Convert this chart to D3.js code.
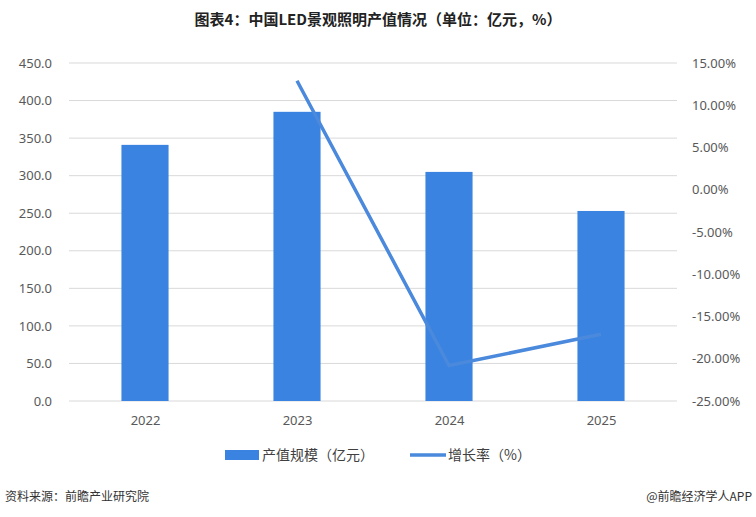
<!DOCTYPE html>
<html lang="zh">
<head>
<meta charset="UTF-8">
<title>中国LED景观照明产值情况</title>
<script src="https://d3js.org/d3.v7.min.js"></script>
<style>
  body { margin: 0; background: #fff; font-family: "Noto Sans CJK SC", "Microsoft YaHei", sans-serif; }
  svg { display: block; }
  .tick text { fill: #595959; font-size: 13px; font-family: "Noto Sans", "Noto Sans CJK SC", sans-serif; }
</style>
</head>
<body>
<svg id="chart" width="756" height="517"></svg>
<script>
const years = ["2022", "2023", "2024", "2025"];
const output = [341, 385, 305, 253];          // 产值规模（亿元）
const growth = [null, 12.9, -20.8, -17.1];    // 增长率（%）
const leftTicks = [0, 50, 100, 150, 200, 250, 300, 350, 400, 450];
const rightTicks = [-25, -20, -15, -10, -5, 0, 5, 10, 15];

const barColor = "#3a83e0";
const lineColor = "#4a89dc";

const svg = d3.select("#chart");
const plotL = 69, plotR = 677, plotT = 63, plotB = 401;

const x = d3.scaleBand().domain(years).range([plotL, plotR])
  .paddingInner(0.69).paddingOuter(0.345);
const xc = d3.scalePoint().domain(years).range([plotL, plotR]).padding(0.5);
const y = d3.scaleLinear().domain([0, 450]).range([plotB, plotT]);
const y2 = d3.scaleLinear().domain([-25, 15]).range([plotB, plotT]);

// title
svg.append("text")
  .attr("x", 378).attr("y", 25)
  .attr("text-anchor", "middle")
  .attr("font-size", 15).attr("font-weight", "bold").attr("fill", "#222")
  .text("图表4：中国LED景观照明产值情况（单位：亿元，%）");

// gridlines
svg.append("g").selectAll("line")
  .data(leftTicks)
  .join("line")
  .attr("x1", plotL).attr("x2", plotR)
  .attr("y1", d => y(d)).attr("y2", d => y(d))
  .attr("stroke", "#d9d9d9").attr("stroke-width", 1);

// axes
const axL = svg.append("g").attr("transform", `translate(${plotL - 14},0)`)
  .call(d3.axisLeft(y).tickValues(leftTicks).tickFormat(d3.format(".1f")).tickSize(0));
axL.select(".domain").remove();

const axR = svg.append("g").attr("transform", `translate(${plotR + 12},0)`)
  .call(d3.axisRight(y2).tickValues(rightTicks).tickFormat(d => d.toFixed(2) + "%").tickSize(0));
axR.select(".domain").remove();

const axB = svg.append("g").attr("transform", `translate(0,${plotB + 12})`)
  .call(d3.axisBottom(xc).tickSize(0));
axB.select(".domain").remove();

// bars
svg.append("g").selectAll("rect")
  .data(years)
  .join("rect")
  .attr("x", d => x(d))
  .attr("width", x.bandwidth())
  .attr("y", (d, i) => y(output[i]))
  .attr("height", (d, i) => y(0) - y(output[i]))
  .attr("fill", barColor);

// growth line
const line = d3.line()
  .defined(d => d[1] !== null)
  .x(d => xc(d[0]))
  .y(d => y2(d[1]));
svg.append("path")
  .datum(years.map((d, i) => [d, growth[i]]))
  .attr("d", line)
  .attr("fill", "none")
  .attr("stroke", lineColor)
  .attr("stroke-width", 3.5);

// legend
const lg = svg.append("g").attr("font-size", 14).attr("fill", "#404040");
lg.append("rect").attr("x", 225).attr("y", 450).attr("width", 34).attr("height", 10).attr("fill", barColor);
lg.append("text").attr("x", 262).attr("y", 460).text("产值规模（亿元）");
lg.append("line").attr("x1", 410).attr("x2", 446).attr("y1", 455).attr("y2", 455)
  .attr("stroke", lineColor).attr("stroke-width", 3.5);
lg.append("text").attr("x", 448).attr("y", 460).text("增长率（%）");

// footer
svg.append("text").attr("x", 5).attr("y", 501).attr("font-size", 12).attr("fill", "#333")
  .text("资料来源：前瞻产业研究院");
svg.append("text").attr("x", 752).attr("y", 501).attr("font-size", 12).attr("fill", "#333")
  .attr("text-anchor", "end").text("@前瞻经济学人APP");
</script>
</body>
</html>
